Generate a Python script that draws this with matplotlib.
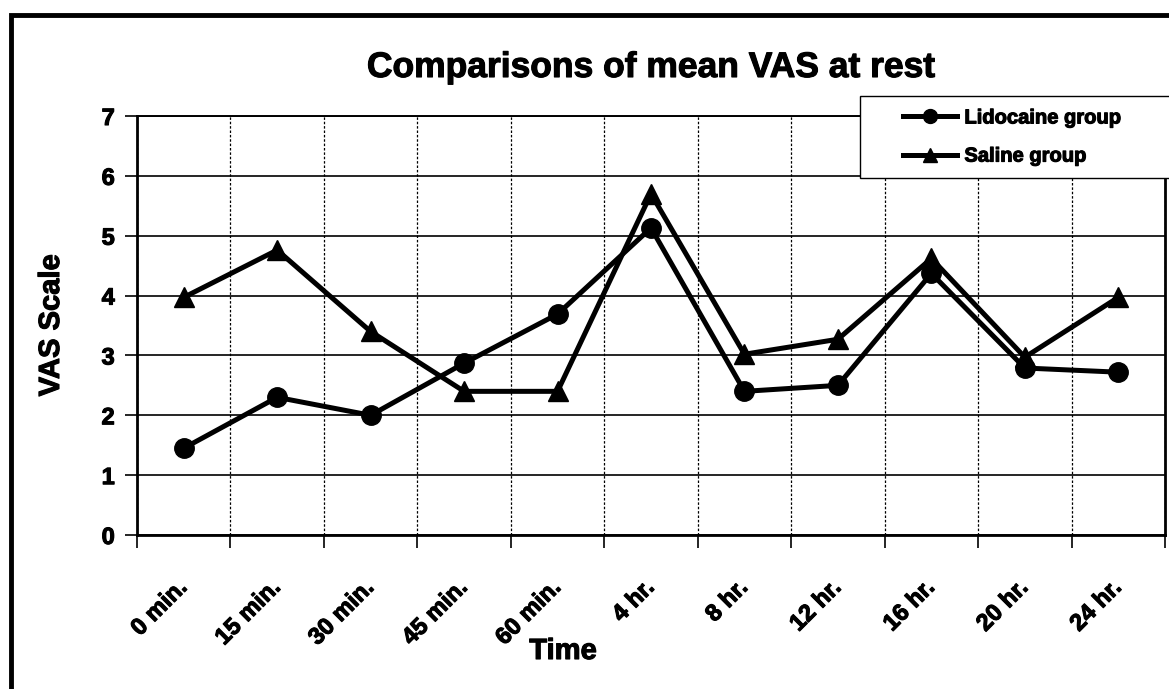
import matplotlib
matplotlib.use("Agg")
import matplotlib.pyplot as plt
import matplotlib.patheffects as pe
from matplotlib.patches import Rectangle
from matplotlib.lines import Line2D

# Data.
times = ["0 min.", "15 min.", "30 min.", "45 min.", "60 min.", "4 hr.",
         "8 hr.", "12 hr.", "16 hr.", "20 hr.", "24 hr."]
lidocaine = [1.45, 2.3, 2.0, 2.87, 3.69, 5.13, 2.4, 2.5, 4.37, 2.79, 2.72]
saline = [3.97, 4.76, 3.4, 2.4, 2.4, 5.7, 3.02, 3.27, 4.62, 2.97, 3.97]

plt.rcParams['font.family'] = ['Liberation Sans', 'DejaVu Sans']
plt.rcParams['font.weight'] = 'bold'

# heavier strokes, the original uses a very dark bold face
heavy = [pe.withStroke(linewidth=0.8, foreground='black')]

W, H = 1169, 689
fig = plt.figure(figsize=(W / 100, H / 100), dpi=100)
ax = fig.add_axes([137 / W, 1 - 535 / H, 1028 / W, 419 / H])

x = list(range(len(times)))
ax.plot(x, lidocaine, color='black', lw=3.6, marker='o', ms=14, zorder=3)
ax.plot(x, saline, color='black', lw=3.6, marker='^', ms=15, zorder=3)

ax.set_xlim(-0.5, len(times) - 0.5)
ax.set_ylim(0, 7)
ax.set_yticks(range(8))
ax.set_xticks(x)
ax.set_xticks([i - 0.5 for i in range(len(times) + 1)], minor=True)
ax.set_xticklabels(times, rotation=45, ha='right', va='center',
                   rotation_mode='anchor', fontsize=17, fontweight='bold')
ax.tick_params(axis='x', which='major', length=0, pad=35)
ax.tick_params(axis='x', which='minor', length=9, width=1.2, direction='out')
ax.tick_params(axis='y', length=9, width=1.2, direction='out', pad=7,
               labelsize=17)
for t in ax.get_yticklabels() + ax.get_xticklabels():
    t.set_fontweight('bold')
    t.set_path_effects(heavy)

ax.grid(axis='y', which='major', color='black', lw=1.2, ls='-')
ax.grid(axis='x', which='minor', color='black', lw=0.9, ls=(0, (2, 1.5)))
ax.set_axisbelow(True)

for s in ['left', 'bottom', 'right']:
    ax.spines[s].set_linewidth(2)
ax.spines['top'].set_linewidth(1.4)

ax.set_title("Comparisons of mean VAS at rest", fontsize=25.5,
             fontweight='bold', pad=0, y=1 + (116 - 77) / 419,
             va='baseline', path_effects=heavy)

ax.set_ylabel("VAS Scale", fontsize=21, fontweight='bold')
ax.yaxis.set_label_coords((65 - 137) / 1028, 0.5)
ax.yaxis.label.set_path_effects(heavy)
ax.set_xlabel("Time", fontsize=21, fontweight='bold')
ax.xaxis.set_label_coords((563 - 137) / 1028, (535 - 637) / 419)
ax.xaxis.label.set_path_effects(heavy)

# legend frame running off the right edge
ax.add_patch(Rectangle((860 / W, 1 - 178 / H), 0.3, 82 / H,
                       transform=fig.transFigure, clip_on=False,
                       facecolor='white', edgecolor='black', lw=1, zorder=4))
handles = [Line2D([], [], color='black', lw=3.6, marker='o', ms=10),
           Line2D([], [], color='black', lw=3.6, marker='^', ms=10)]
leg = ax.legend(handles, ["Lidocaine group", "Saline group"],
                loc='center left', bbox_to_anchor=(903 / W, 1 - 137 / H),
                bbox_transform=fig.transFigure, frameon=False,
                borderpad=0, borderaxespad=0, handlelength=2.7,
                handletextpad=0.35, labelspacing=0.95,
                prop={'size': 14.5, 'weight': 'bold'})
leg.set_zorder(5)
for t in leg.get_texts():
    t.set_path_effects(heavy)

# outer frame (left and top visible)
fig.add_artist(Rectangle((10.5 / W, -0.1), 2, 1 - 15 / H + 0.1,
                         transform=fig.transFigure, fill=False,
                         lw=3.5, edgecolor='black'))

fig.savefig("out.png", dpi=100)
